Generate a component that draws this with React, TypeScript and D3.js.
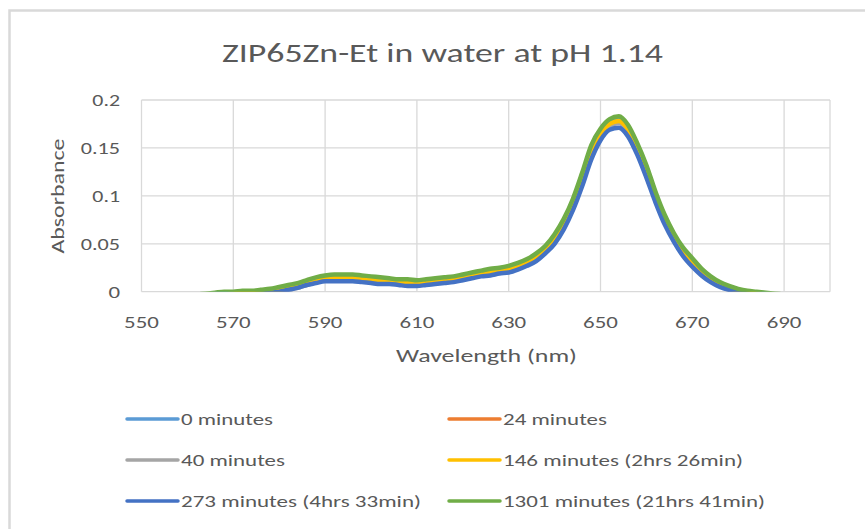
import React from "react";
import * as d3 from "d3";

const wavelengths = d3.range(560, 691, 2);

const xTicks = [550, 570, 590, 610, 630, 650, 670, 690];
const yTicks = [0, 0.05, 0.1, 0.15, 0.2];
const yTickLabels = ["0", "0.05", "0.1", "0.15", "0.2"];

const seriesNames = [
  "0 minutes",
  "24 minutes",
  "40 minutes",
  "146 minutes (2hrs 26min)",
  "273 minutes (4hrs 33min)",
  "1301 minutes (21hrs 41min)",
];
const seriesColors = ["#5B9BD5", "#ED7D31", "#A5A5A5", "#FFC000", "#4472C4", "#70AD47"];

const min0 = [
  -0.005, -0.004, -0.003, -0.002, -0.001, -0.001, 0.0, 0.0, 0.001, 0.002,
  0.004, 0.006, 0.008, 0.011, 0.014, 0.016, 0.017, 0.017, 0.017, 0.016,
  0.015, 0.014, 0.013, 0.012, 0.012, 0.011, 0.012, 0.013, 0.014, 0.015,
  0.017, 0.019, 0.021, 0.023, 0.024, 0.026, 0.029, 0.033, 0.039, 0.047,
  0.058, 0.074, 0.095, 0.121, 0.150, 0.167, 0.178, 0.181, 0.172, 0.153,
  0.130, 0.102, 0.078, 0.059, 0.044, 0.033, 0.023, 0.015, 0.009, 0.005,
  0.002, 0.0, -0.001, -0.002, -0.003, -0.004,
];
const min24 = [
  -0.008, -0.007, -0.006, -0.005, -0.004, -0.003, -0.002, -0.002, -0.001, 0.0,
  0.001, 0.003, 0.005, 0.008, 0.011, 0.013, 0.014, 0.014, 0.014, 0.013,
  0.012, 0.011, 0.010, 0.009, 0.009, 0.008, 0.009, 0.010, 0.011, 0.012,
  0.014, 0.016, 0.018, 0.020, 0.021, 0.023, 0.026, 0.030, 0.035, 0.043,
  0.054, 0.070, 0.090, 0.115, 0.144, 0.163, 0.174, 0.177, 0.168, 0.149,
  0.126, 0.098, 0.075, 0.056, 0.041, 0.030, 0.020, 0.012, 0.007, 0.003,
  0.0, -0.002, -0.003, -0.004, -0.005, -0.006,
];
const min40 = [
  -0.009, -0.008, -0.007, -0.006, -0.005, -0.004, -0.003, -0.003, -0.002, -0.001,
  0.0, 0.002, 0.004, 0.007, 0.010, 0.012, 0.013, 0.013, 0.013, 0.012,
  0.011, 0.010, 0.009, 0.008, 0.008, 0.007, 0.008, 0.009, 0.010, 0.011,
  0.013, 0.015, 0.017, 0.019, 0.020, 0.022, 0.025, 0.029, 0.034, 0.042,
  0.053, 0.069, 0.089, 0.114, 0.143, 0.162, 0.173, 0.176, 0.167, 0.148,
  0.125, 0.097, 0.074, 0.055, 0.040, 0.029, 0.019, 0.011, 0.006, 0.002,
  -0.001, -0.003, -0.004, -0.005, -0.006, -0.007,
];
const min146 = [
  -0.007, -0.006, -0.005, -0.004, -0.003, -0.002, -0.001, -0.001, 0.0, 0.001,
  0.002, 0.004, 0.006, 0.009, 0.012, 0.014, 0.015, 0.015, 0.015, 0.014,
  0.013, 0.012, 0.011, 0.010, 0.010, 0.009, 0.010, 0.011, 0.012, 0.013,
  0.015, 0.017, 0.019, 0.021, 0.022, 0.024, 0.027, 0.031, 0.036, 0.044,
  0.055, 0.071, 0.091, 0.117, 0.146, 0.164, 0.175, 0.178, 0.169, 0.150,
  0.127, 0.099, 0.076, 0.057, 0.042, 0.031, 0.021, 0.013, 0.008, 0.004,
  0.001, -0.001, -0.002, -0.003, -0.004, -0.005,
];
const min273 = [
  -0.010, -0.009, -0.008, -0.007, -0.006, -0.005, -0.004, -0.003, -0.002, -0.001,
  0.0, 0.002, 0.004, 0.007, 0.009, 0.011, 0.011, 0.011, 0.011, 0.010,
  0.009, 0.008, 0.008, 0.007, 0.006, 0.006, 0.007, 0.008, 0.009, 0.010,
  0.012, 0.014, 0.016, 0.017, 0.019, 0.020, 0.023, 0.027, 0.032, 0.040,
  0.050, 0.065, 0.085, 0.110, 0.138, 0.158, 0.169, 0.171, 0.162, 0.143,
  0.119, 0.093, 0.070, 0.052, 0.037, 0.026, 0.017, 0.010, 0.005, 0.002,
  0.0, -0.002, -0.003, -0.004, -0.005, -0.006,
];
const min1301 = [
  -0.004, -0.003, -0.002, -0.001, 0.0, 0.0, 0.001, 0.001, 0.002, 0.003,
  0.005, 0.007, 0.009, 0.012, 0.015, 0.017, 0.018, 0.018, 0.018, 0.017,
  0.016, 0.015, 0.014, 0.013, 0.013, 0.012, 0.013, 0.014, 0.015, 0.016,
  0.018, 0.020, 0.022, 0.024, 0.025, 0.027, 0.030, 0.034, 0.040, 0.048,
  0.060, 0.076, 0.097, 0.124, 0.153, 0.170, 0.180, 0.183, 0.174, 0.155,
  0.132, 0.104, 0.080, 0.061, 0.046, 0.035, 0.024, 0.016, 0.010, 0.006,
  0.003, 0.001, 0.0, -0.001, -0.002, -0.003,
];

const seriesValues = [min0, min24, min40, min146, min273, min1301];

const W = 865;
const H = 529;
const plot = { left: 141.5, right: 830, top: 100, bottom: 291.7 };
const FONT = "Carlito, Calibri, Lato, 'Open Sans', sans-serif";
const TXT = "#595959";
const GRID = "#d9d9d9";

// rendered widths of the (horizontally wide) reference text
const legendTextWidths = [92, 104, 104, 240, 240, 262];
const numWidth = (s: string) =>
  s.split("").reduce((a, c) => a + (c === "." ? 4.5 : 11.6), 0);

export default function App() {
  const x = d3.scaleLinear().domain([550, 700]).range([plot.left, plot.right]);
  const y = d3.scaleLinear().domain([0, 0.2]).range([plot.bottom, plot.top]);
  const line = d3
    .line<number>()
    .x((_, i) => x(wavelengths[i]))
    .y((v) => y(v))
    .curve(d3.curveMonotoneX);

  const legendRows = [419, 460, 501];
  const legendCols = [127, 449];

  return (
    <svg
      width={W}
      height={H}
      style={{ position: "absolute", left: 0, top: 0, background: "#fff" }}
      fontFamily={FONT}
    >
      <rect x={0} y={0} width={W} height={H} fill="#fff" />
      <rect x={9.5} y={10.5} width={900} height={600} fill="none" stroke={GRID} strokeWidth={2.5} />
      <defs>
        <clipPath id="plotclip">
          <rect x={plot.left} y={plot.top - 10} width={plot.right - plot.left} height={plot.bottom - plot.top + 10} />
        </clipPath>
      </defs>
      <text
        x={222}
        y={62}
        fontSize={27}
        fill={TXT}
        textLength={441}
        lengthAdjust="spacingAndGlyphs"
      >
        ZIP65Zn-Et in water at pH 1.14
      </text>
      {/* grid */}
      {xTicks.map((t) => (
        <line key={"gx" + t} x1={x(t)} x2={x(t)} y1={plot.top} y2={plot.bottom} stroke={GRID} strokeWidth={1.3} />
      ))}
      <line x1={plot.right} x2={plot.right} y1={plot.top} y2={plot.bottom} stroke={GRID} strokeWidth={1.3} />
      {yTicks.map((t) => (
        <line key={"gy" + t} x1={plot.left} x2={plot.right} y1={y(t)} y2={y(t)} stroke={GRID} strokeWidth={1.3} />
      ))}
      {/* tick labels */}
      {yTicks.map((t, i) => {
        const w = numWidth(yTickLabels[i]);
        return (
          <text
            key={"ty" + t}
            x={120 - w}
            y={y(t)}
            dy="0.36em"
            fontSize={17}
            fill={TXT}
            textLength={w}
            lengthAdjust="spacingAndGlyphs"
          >
            {yTickLabels[i]}
          </text>
        );
      })}
      {xTicks.map((t) => {
        const w = numWidth(String(t));
        return (
          <text
            key={"tx" + t}
            x={x(t) - w / 2}
            y={328}
            fontSize={17}
            fill={TXT}
            textLength={w}
            lengthAdjust="spacingAndGlyphs"
          >
            {t}
          </text>
        );
      })}
      <text x={396} y={362} fontSize={18} fill={TXT} textLength={181} lengthAdjust="spacingAndGlyphs">
        Wavelength (nm)
      </text>
      <text
        transform={`translate(64,253.5) rotate(-90)`}
        fontSize={18}
        fill={TXT}
        textLength={115}
        lengthAdjust="spacingAndGlyphs"
      >
        Absorbance
      </text>
      {/* series */}
      <g clipPath="url(#plotclip)">
        {seriesValues.map((vals, i) => (
          <path
            key={seriesNames[i]}
            d={line(vals) || ""}
            fill="none"
            stroke={seriesColors[i]}
            strokeWidth={4.5}
            strokeLinejoin="round"
            strokeLinecap="round"
          />
        ))}
      </g>
      {/* legend */}
      {seriesNames.map((name, i) => {
        const row = Math.floor(i / 2);
        const col = i % 2;
        const lx = legendCols[col];
        const ly = legendRows[row];
        return (
          <g key={"lg" + name}>
            <line x1={lx} x2={lx + 51} y1={ly} y2={ly} stroke={seriesColors[i]} strokeWidth={3.5} strokeLinecap="round" />
            <text
              x={lx + 54}
              y={ly}
              dy="0.36em"
              fontSize={17}
              fill={TXT}
              textLength={legendTextWidths[i]}
              lengthAdjust="spacingAndGlyphs"
            >
              {name}
            </text>
          </g>
        );
      })}
    </svg>
  );
}
